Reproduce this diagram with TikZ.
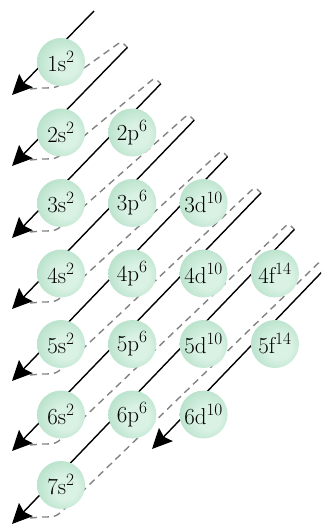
\documentclass[tikz,border=0pt]{standalone}
\usetikzlibrary{arrows.meta,calc}
\definecolor{ballin}{RGB}{218,242,228}
\definecolor{ballout}{RGB}{145,207,174}
\definecolor{dashgray}{RGB}{130,130,130}
\pgfdeclareradialshading{orbball}{\pgfpoint{6bp}{-4bp}}{color(0bp)=(ballin); color(12bp)=(ballin); color(50bp)=(ballout); color(60bp)=(ballout)}
\tikzset{
  orb/.style={circle, minimum size=48pt, inner sep=0pt, shade, shading=orbball, font=\fontsize{23}{25}\selectfont},
  diag/.style={line width=1.4pt, black, -{Stealth[length=20pt,width=19pt,inset=3pt]}},
  ret/.style={line width=1.4pt, dashgray, dash pattern=on 7pt off 5pt},
}
\begin{document}
\begin{tikzpicture}[x=1pt,y=-1pt]
\useasboundingbox (0,0) rectangle (321,526);
\clip (0,0) rectangle (321,526);
% tops of the diagonals
\coordinate (t1) at (94,11);
\coordinate (t2) at (127.4,47.4);
\coordinate (t3) at (160.8,83.8);
\coordinate (t4) at (194.2,120.2);
\coordinate (t5) at (227.6,156.6);
\coordinate (t6) at (261,193);
\coordinate (t7) at (294.4,229.4);
\coordinate (t8) at (327.8,265.8);
% arrow tips
\coordinate (a1) at (12,95);
\coordinate (a2) at (12,166);
\coordinate (a3) at (12,238);
\coordinate (a4) at (12,309);
\coordinate (a5) at (12,381);
\coordinate (a6) at (12,451);
\coordinate (a7) at (12,524);
\coordinate (a8) at (152,449);
% dashed return paths
\foreach \i/\j in {1/2,2/3,3/4,4/5,5/6,6/7,7/8}{
  \coordinate (s\i) at ($(a\i)+(18,-6)$);
  \coordinate (c\i) at ($(a\i)+(44,-7)$);
  \coordinate (k\i) at ($(t\j)+(-6,-6)$);
  \draw[ret] (s\i) -- ($(c\i)+(-14,0)$) .. controls (c\i) .. ($(c\i)!14pt!(k\i)$)
     -- ($(k\i)!5pt!(c\i)$) .. controls (k\i) .. (t\j);
}
% solid diagonals
\foreach \i in {1,...,8}{
  \draw[diag] (t\i) -- (a\i);
}
% orbitals
\node[orb] (n1s) at (61,62) {1s$^{2}$};
\node[orb] (n2s) at (61,132.5) {2s$^{2}$};
\node[orb] (n2p) at (132.3,132.5) {2p$^{6}$};
\node[orb] (n3s) at (61,203) {3s$^{2}$};
\node[orb] (n3p) at (132.3,203) {3p$^{6}$};
\node[orb] (n3d) at (203.6,203) {3d$^{10}$};
\node[orb] (n4s) at (61,273.5) {4s$^{2}$};
\node[orb] (n4p) at (132.3,273.5) {4p$^{6}$};
\node[orb] (n4d) at (203.6,273.5) {4d$^{10}$};
\node[orb] (n4f) at (274.9,273.5) {4f$^{14}$};
\node[orb] (n5s) at (61,344) {5s$^{2}$};
\node[orb] (n5p) at (132.3,344) {5p$^{6}$};
\node[orb] (n5d) at (203.6,344) {5d$^{10}$};
\node[orb] (n5f) at (274.9,344) {5f$^{14}$};
\node[orb] (n6s) at (61,414.5) {6s$^{2}$};
\node[orb] (n6p) at (132.3,414.5) {6p$^{6}$};
\node[orb] (n6d) at (203.6,414.5) {6d$^{10}$};
\node[orb] (n7s) at (61,485) {7s$^{2}$};
\end{tikzpicture}
\end{document}
